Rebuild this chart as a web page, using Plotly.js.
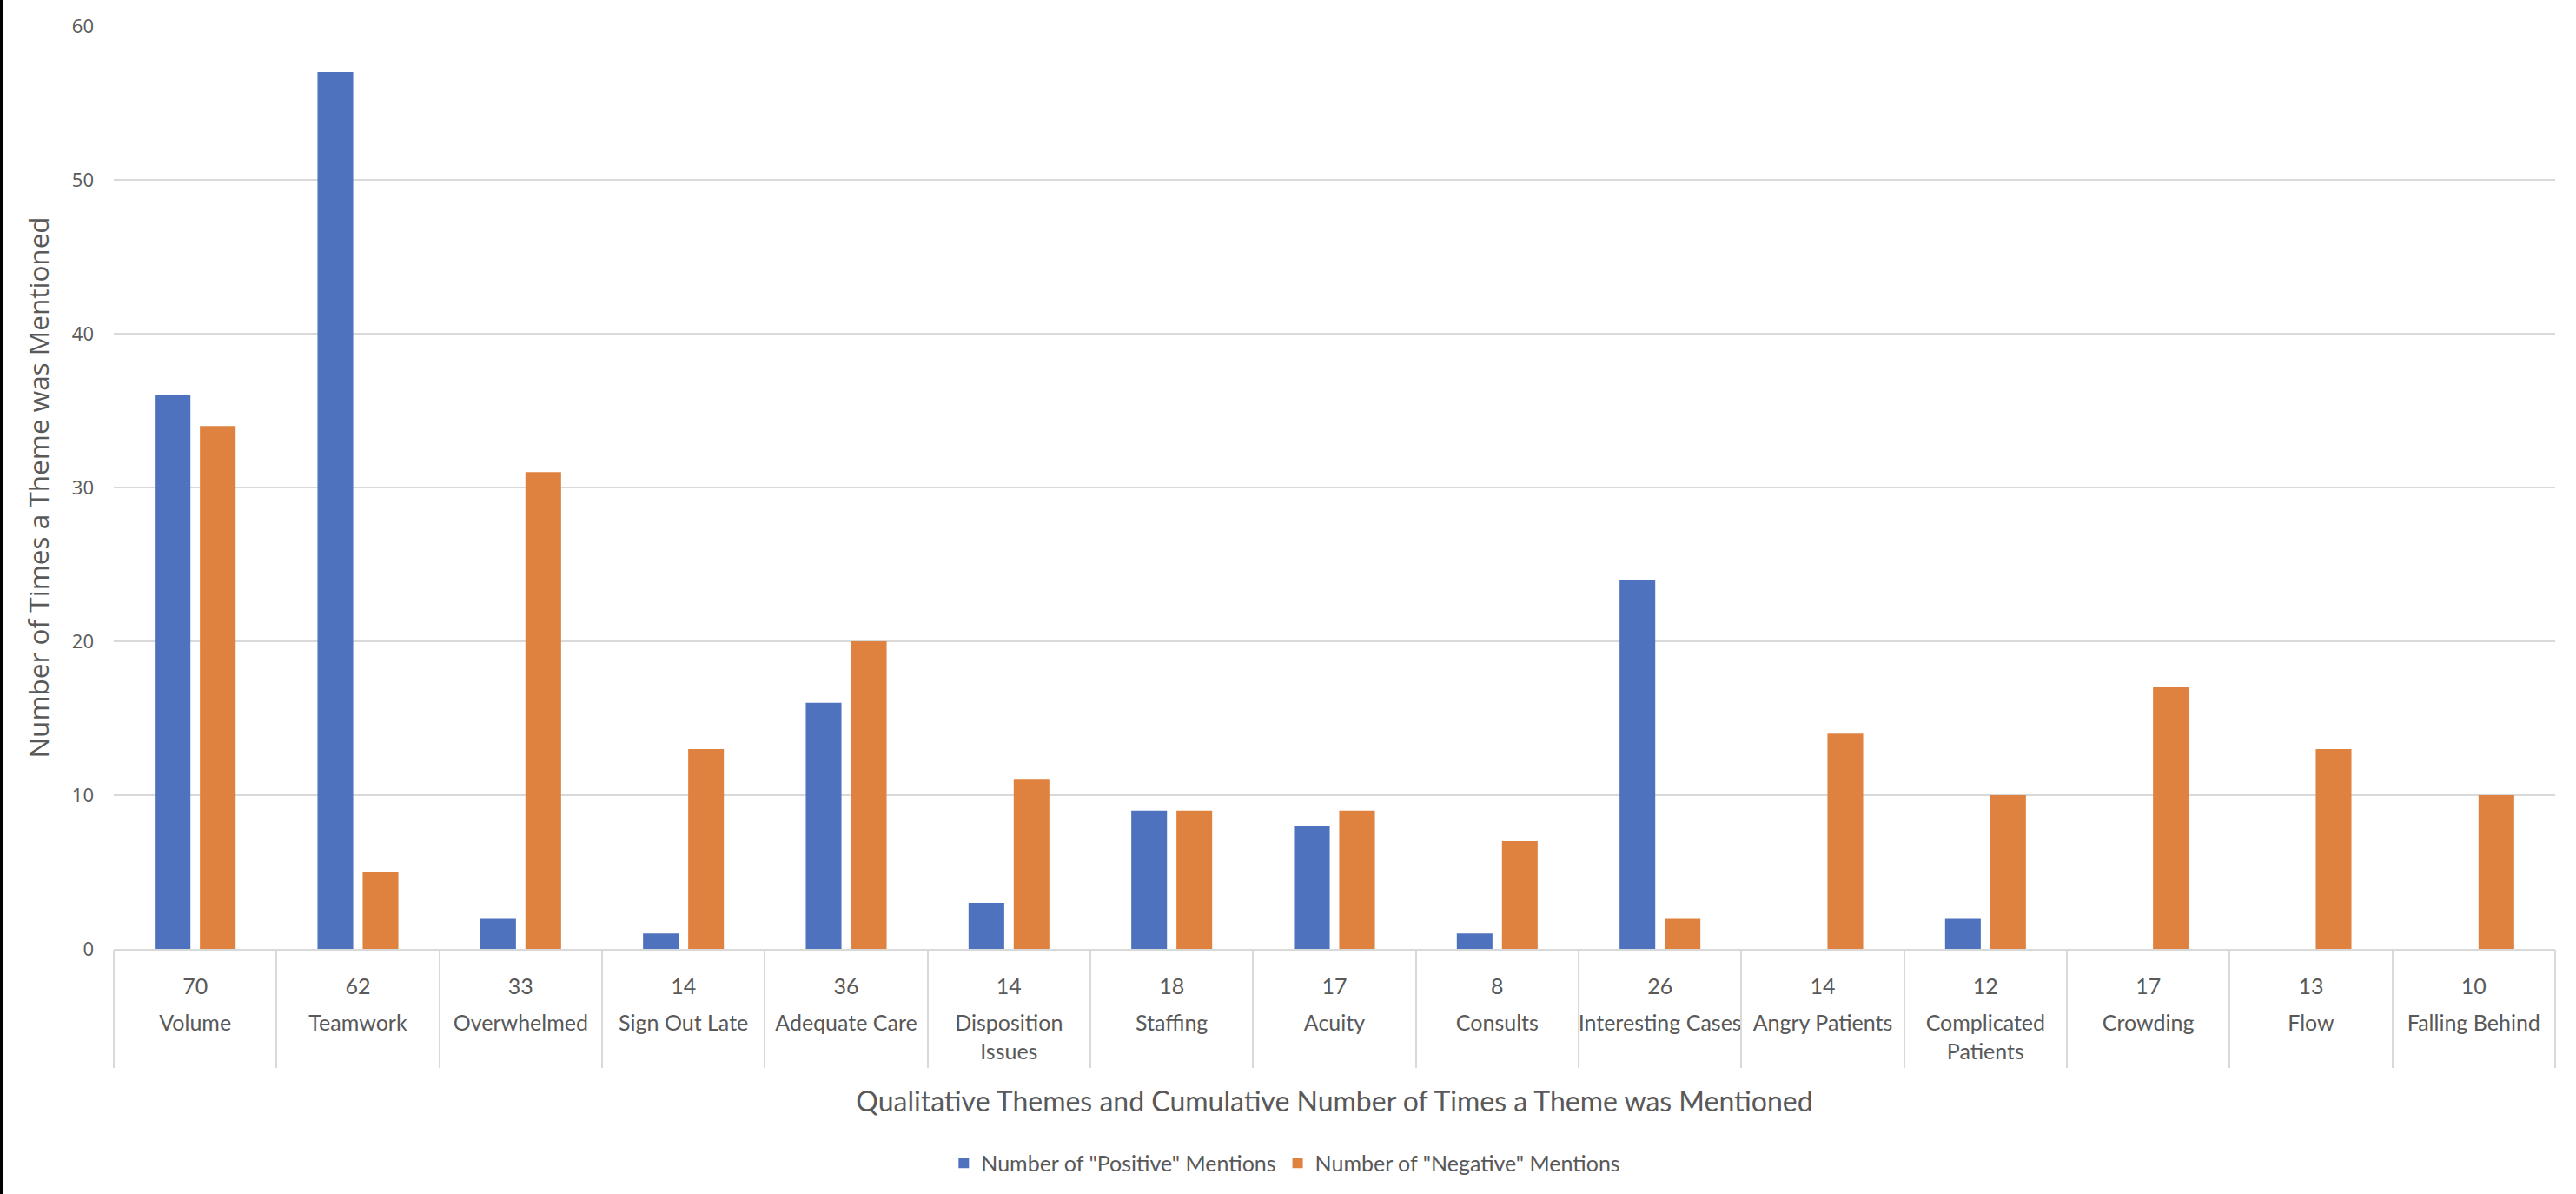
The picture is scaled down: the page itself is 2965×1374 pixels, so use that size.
<!DOCTYPE html>
<html>
<head>
<meta charset="utf-8">
<script src="https://cdn.plot.ly/plotly-3.0.1.min.js"></script>
<style>
  html, body { margin: 0; padding: 0; background: #fff; }
  #wrap { width: 2962px; height: 1374px; border-left: 3px solid #000; }
  #chart { width: 2962px; height: 1374px; }
</style>
</head>
<body>
<div id="wrap"><div id="chart"></div></div>
<script>
// ---- data ----
const themes = ["Volume", "Teamwork", "Overwhelmed", "Sign Out Late", "Adequate Care",
  "Disposition Issues", "Staffing", "Acuity", "Consults", "Interesting Cases",
  "Angry Patients", "Complicated Patients", "Crowding", "Flow", "Falling Behind"];
const themeLabels = ["Volume", "Teamwork", "Overwhelmed", "Sign Out Late", "Adequate Care",
  "Disposition<br>Issues", "Staffing", "Acuity", "Consults", "Interesting Cases",
  "Angry Patients", "Complicated<br>Patients", "Crowding", "Flow", "Falling Behind"];
const totals = [70, 62, 33, 14, 36, 14, 18, 17, 8, 26, 14, 12, 17, 13, 10];
const positiveMentions = [36, 57, 2, 1, 16, 3, 9, 8, 1, 24, 0, 2, 0, 0, 0];
const negativeMentions = [34, 5, 31, 13, 20, 11, 9, 9, 7, 2, 14, 10, 17, 13, 10];
const seriesNames = ['Number of "Positive" Mentions', 'Number of "Negative" Mentions'];
const yTicks = [0, 10, 20, 30, 40, 50, 60];

const labelFont = 'Lato, "Liberation Sans", sans-serif';
const axisFont = '"Open Sans", "DejaVu Sans", sans-serif';
const grey = '#595959';
const lineGrey = '#d9d9d9';

const boundaries = themes.map((_, i) => i - 0.5).concat([themes.length - 0.5]);
const catRange = [-0.5, themes.length - 0.5];

const traces = [
  { type: 'bar', name: seriesNames[0], x: themes, y: positiveMentions,
    marker: { color: '#4E72BE' }, xaxis: 'x', yaxis: 'y' },
  { type: 'bar', name: seriesNames[1], x: themes, y: negativeMentions,
    marker: { color: '#E0823F' }, xaxis: 'x', yaxis: 'y' },
  // empty helper traces so the label axis (totals) and the divider axis are drawn
  { type: 'scatter', mode: 'none', x: themes, y: themes.map(() => null),
    xaxis: 'x2', yaxis: 'y', showlegend: false, hoverinfo: 'skip' },
  { type: 'scatter', mode: 'none', x: boundaries, y: boundaries.map(() => null),
    xaxis: 'x3', yaxis: 'y', showlegend: false, hoverinfo: 'skip' }
];

const layout = {
  width: 2962, height: 1374,
  margin: { l: 128, r: 24, t: 30, b: 271 },
  paper_bgcolor: '#fff', plot_bgcolor: '#fff',
  barmode: 'group', bargap: 0.445, bargroupgap: 0.21,
  showlegend: true,
  legend: { orientation: 'h', x: 0.48, xanchor: 'center', y: -0.232, yanchor: 'middle',
    font: { family: labelFont, size: 25, color: grey }, traceorder: 'normal' },
  xaxis: {
    type: 'category', categoryorder: 'array', categoryarray: themes, range: catRange,
    tickmode: 'array', tickvals: themes, ticktext: themeLabels,
    ticks: '', showgrid: false, zeroline: false,
    showline: true, linecolor: lineGrey, linewidth: 2,
    tickfont: { family: labelFont, size: 25, color: grey },
    ticklabelstandoff: 62, automargin: false,
    title: { text: 'Qualitative Themes and Cumulative Number of Times a Theme was Mentioned',
      font: { family: labelFont, size: 32, color: grey }, standoff: 34 }
  },
  xaxis2: {
    type: 'category', categoryorder: 'array', categoryarray: themes, range: catRange,
    overlaying: 'x', anchor: 'y', side: 'bottom',
    tickmode: 'array', tickvals: themes, ticktext: totals.map(String),
    ticks: '', showgrid: false, zeroline: false, showline: false,
    tickfont: { family: labelFont, size: 25, color: grey },
    ticklabelstandoff: 26, automargin: false
  },
  xaxis3: {
    type: 'linear', range: catRange, overlaying: 'x', anchor: 'y', side: 'bottom',
    tickmode: 'array', tickvals: boundaries, showticklabels: false,
    ticks: 'outside', ticklen: 136, tickwidth: 2, tickcolor: lineGrey,
    showgrid: false, zeroline: false, showline: false, automargin: false
  },
  yaxis: {
    range: [0, 60], tickmode: 'array', tickvals: yTicks,
    showgrid: true, gridcolor: lineGrey, gridwidth: 2,
    zeroline: false, showline: false, ticks: '',
    tickfont: { family: axisFont, size: 22, color: grey },
    ticklabelstandoff: 22, automargin: false,
    title: { text: 'Number of Times a Theme was Mentioned',
      font: { family: axisFont, size: 31.5, color: grey }, standoff: 16 }
  }
};

Plotly.newPlot('chart', traces, layout, { displayModeBar: false, staticPlot: true });
</script>
</body>
</html>
